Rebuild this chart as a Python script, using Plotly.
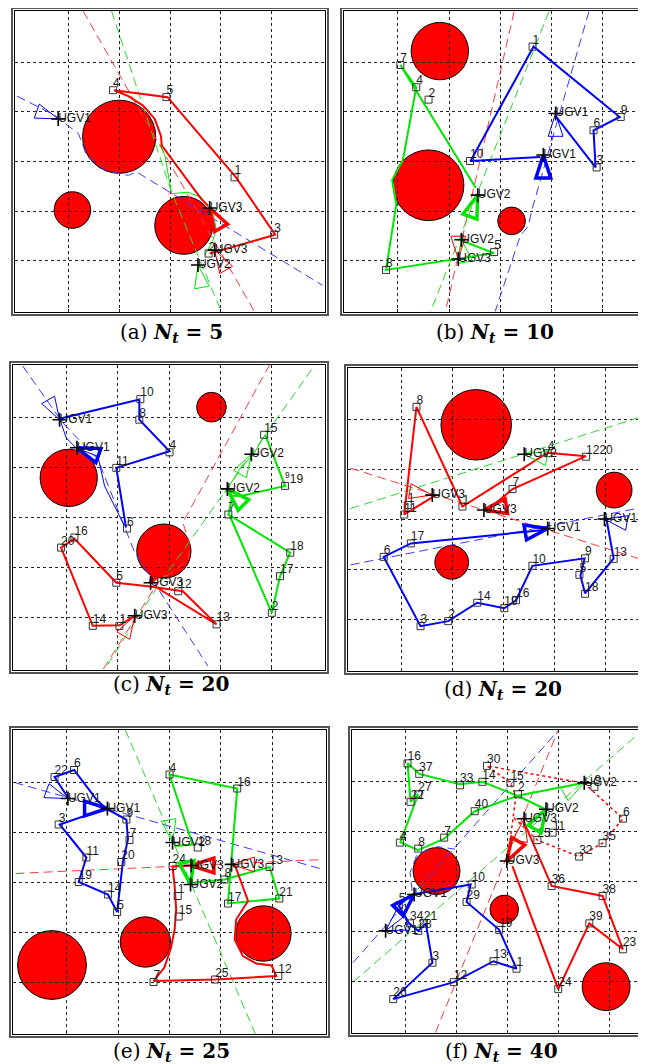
import plotly.graph_objects as go

W, H = 646, 1064
RED, GREEN, BLUE = "#ff0000", "#00e600", "#0000ff"
RED_D, GREEN_D, BLUE_D = "#ff3b3b", "#2ad82a", "#3b3bff"
COL = {"UGV1": BLUE, "UGV2": GREEN, "UGV3": RED}

# ================= (a) N_t = 5 =================
a_obs_x = [2.00, 1.08, 3.27]
a_obs_y = [3.50, 2.02, 1.71]
a_obs_r = [0.72, 0.36, 0.57]
a_red_x = [3.78, 5.07, 4.30, 2.95, 1.90, 2.18, 2.47, 2.70, 2.82, 2.84, 3.61, 3.75]
a_red_y = [1.14, 1.52, 2.68, 4.30, 4.44, 4.32, 4.13, 3.86, 3.52, 3.32, 2.25, 2.10]
a_red_ids = ["1", "2", "3", "4", "5"]
a_red_tx = [4.27, 3.76, 5.05, 1.88, 2.93]
a_red_ty = [2.68, 1.14, 1.52, 4.44, 4.30]
a_green_thin_x = [2.80, 2.90, 3.03, 3.35, 3.61, 3.84, 3.91, 3.84, 3.68]
a_green_thin_y = [3.36, 3.12, 2.35, 2.38, 2.28, 1.98, 1.64, 1.38, 1.11]
a_blue_dash_x = [-0.01, 0.74, 1.20, 1.36, 1.72, 2.18, 2.34, 6.0]
a_blue_dash_y = [4.32, 3.93, 3.56, 3.12, 2.82, 2.72, 2.79, 0.50]
a_red_dash_x = [1.29, 4.66]
a_red_dash_y = [6.04, -0.03]
a_green_dash_x = [1.85, 3.03, 4.01]
a_green_dash_y = [6.04, 2.38, -0.03]
a_ugv_names = ["UGV1", "UGV3", "UGV3", "UGV2"]
a_ugv_x = [0.80, 3.78, 3.88, 3.55]
a_ugv_y = [3.86, 2.06, 1.21, 0.91]
a_ugv_thick = [0, 1, 0, 0]
a_ugv_angle = [110, -30, -30, -10]

# ================= (b) N_t = 10 =================
b_obs_x = [1.82, 1.60, 3.22]
b_obs_y = [5.23, 2.52, 1.80]
b_obs_r = [0.56, 0.69, 0.27]
b_blue_x = [4.07, 4.86, 4.82, 5.33, 3.65, 2.42, 3.78]
b_blue_y = [3.93, 2.88, 3.63, 3.90, 5.32, 3.01, 3.09]
b_blue_ids = ["1", "9", "6", "3", "10"]
b_blue_tx = [3.63, 5.35, 4.82, 4.88, 2.41]
b_blue_ty = [5.32, 3.90, 3.63, 2.88, 3.01]
b_green_x = [2.25, 2.88, 0.77, 0.97, 0.89, 1.10, 1.36, 1.05, 2.52]
b_green_y = [1.40, 1.15, 0.81, 2.13, 2.63, 3.03, 4.50, 4.95, 2.47]
b_green_ids = ["7", "4", "2", "5", "8"]
b_green_tx = [1.05, 1.36, 1.60, 2.88, 0.77]
b_green_ty = [4.95, 4.50, 4.25, 1.17, 0.81]
b_blue_dash_x = [4.73, 3.61, 3.55, 3.39, 2.90]
b_blue_dash_y = [6.03, 2.00, 1.70, 1.50, -0.03]
b_red_dash_x = [3.27, 1.93]
b_red_dash_y = [6.03, -0.03]
b_green_dash_x = [3.95, 1.64]
b_green_dash_y = [6.03, -0.03]
b_ugv_names = ["UGV1", "UGV1", "UGV2", "UGV2", "UGV3"]
b_ugv_x = [4.08, 3.84, 2.56, 2.24, 2.18]
b_ugv_y = [3.97, 3.13, 2.32, 1.42, 1.03]
b_ugv_thick = [0, 1, 1, 0, 0]
b_ugv_angle = [0, 0, 20, -10, 180]

# ================= (c) N_t = 20 =================
c_obs_x = [3.83, 1.04, 2.90]
c_obs_y = [5.20, 3.79, 2.33]
c_obs_r = [0.29, 0.56, 0.53]
c_blue_x = [0.86, 2.42, 2.42, 3.01, 1.97, 2.16]
c_blue_y = [4.97, 5.35, 4.95, 4.32, 3.99, 2.80]
c_blue_thin_x = [0.86, 0.99, 1.18, 1.61, 1.74, 2.13]
c_blue_thin_y = [4.97, 4.59, 4.39, 4.22, 3.63, 2.83]
c_blue_ids = ["10", "8", "4", "11", "6"]
c_blue_tx = [2.44, 2.42, 3.01, 1.97, 2.18]
c_blue_ty = [5.36, 4.95, 4.30, 3.99, 2.78]
c_red_x = [2.33, 2.03, 1.51, 0.89, 1.15, 1.97, 2.59, 3.27, 3.93, 2.72]
c_red_y = [1.04, 0.85, 0.84, 2.40, 2.58, 1.70, 1.63, 1.53, 0.87, 1.63]
c_red_ids = ["16", "20", "5", "12", "13", "14", "1"]
c_red_tx = [1.15, 0.89, 1.97, 3.18, 3.93, 1.51, 2.03]
c_red_ty = [2.60, 2.40, 1.70, 1.53, 0.87, 0.84, 0.84]
c_green_x = [4.88, 5.27, 4.45, 4.24, 4.16, 5.37, 5.17, 5.01, 4.19]
c_green_y = [4.65, 3.63, 3.44, 3.43, 3.06, 2.30, 1.83, 1.10, 3.03]
c_green_thin_x = [4.09, 4.42, 4.65, 4.88]
c_green_thin_y = [3.49, 4.02, 4.26, 4.65]
c_green_ids = ["15", "<sup>9</sup>19", "7", "18", "17", "2"]
c_green_tx = [4.86, 5.27, 4.16, 5.37, 5.17, 5.01]
c_green_ty = [4.65, 3.63, 3.06, 2.30, 1.83, 1.10]
c_blue_dash_x = [0.14, 0.92, 1.61, 2.00, 2.33, 3.76]
c_blue_dash_y = [6.02, 4.89, 4.16, 3.16, 2.30, 0.04]
c_red_dash_x = [4.97, 3.27, 3.42, 3.37, 2.78, 1.71]
c_red_dash_y = [6.05, 2.90, 2.43, 2.16, 1.70, -0.03]
c_green_dash_x = [5.79, 2.78, 1.74]
c_green_dash_y = [5.95, 1.63, -0.03]
c_ugv_names = ["UGV1", "UGV1", "UGV2", "UGV2", "UGV3", "UGV3"]
c_ugv_x = [0.86, 1.20, 4.61, 4.14, 2.64, 2.33]
c_ugv_y = [4.95, 4.39, 4.26, 3.57, 1.70, 1.04]
c_ugv_thick = [0, 1, 0, 1, 1, 0]
c_ugv_angle = [150, -70, 30, -45, 210, 30]

# ================= (d) N_t = 20 =================
d_obs_x = [2.46, 5.16, 1.98]
d_obs_y = [4.90, 3.59, 2.14]
d_obs_r = [0.69, 0.35, 0.33]
d_red_x = [1.67, 1.05, 1.29, 2.19, 3.86, 4.61, 3.17, 2.68]
d_red_y = [3.49, 3.10, 5.26, 3.26, 4.34, 4.27, 3.61, 3.19]
d_red_ids = ["8", "1", "11", "1", "7", "4", "1220"]
d_red_tx = [1.29, 1.12, 1.05, 2.19, 3.17, 3.86, 4.61]
d_red_ty = [5.26, 3.29, 3.10, 3.26, 3.61, 4.33, 4.26]
d_blue_x = [3.79, 1.18, 0.65, 1.37, 1.91, 2.48, 3.01, 3.24, 3.56, 4.58, 4.50, 4.59, 5.15, 5.00]
d_blue_y = [2.79, 2.52, 2.25, 0.86, 0.96, 1.33, 1.22, 1.38, 2.07, 2.22, 1.87, 1.52, 2.22, 3.06]
d_blue_ids = ["17", "6", "3", "2", "14", "19", "16", "10", "9", "5", "18", "13"]
d_blue_tx = [1.18, 0.65, 1.37, 1.91, 2.48, 3.01, 3.24, 3.56, 4.59, 4.48, 4.59, 5.15]
d_blue_ty = [2.52, 2.25, 0.86, 0.96, 1.33, 1.22, 1.38, 2.07, 2.22, 1.89, 1.51, 2.21]
d_red_dash_x = [0.0, 6.0]
d_red_dash_y = [4.03, 2.10]
d_green_dash_x = [0.0, 6.0]
d_green_dash_y = [3.22, 5.16]
d_blue_dash_x = [0.0, 6.0]
d_blue_dash_y = [2.09, 3.30]
d_ugv_names = ["UGV2", "UGV3", "UGV3", "UGV1", "UGV1"]
d_ugv_x = [3.40, 1.60, 2.61, 3.86, 4.97]
d_ugv_y = [4.31, 3.49, 3.19, 2.82, 3.01]
d_ugv_thick = [0, 0, 1, 1, 0]
d_ugv_angle = [-80, 100, -100, 80, -80]

# ================= (e) N_t = 25 =================
e_obs_x = [0.71, 2.53, 4.83]
e_obs_y = [1.34, 1.80, 1.97]
e_obs_r = [0.67, 0.49, 0.54]
e_blue_x = [1.02, 0.76, 1.14, 1.60, 1.77, 0.86, 1.38, 1.23, 1.80, 1.98, 2.09, 2.19, 2.16, 1.80]
e_blue_y = [4.69, 5.10, 5.24, 4.62, 4.47, 4.15, 3.49, 3.00, 2.75, 2.40, 3.39, 3.85, 4.25, 4.45]
e_blue_ids = ["22", "6", "3", "11", "19", "14", "5", "20", "7", "9"]
e_blue_tx = [0.76, 1.14, 0.84, 1.38, 1.23, 1.80, 1.98, 2.06, 2.22, 2.16]
e_blue_ty = [5.10, 5.24, 4.15, 3.49, 3.00, 2.75, 2.40, 3.40, 3.84, 4.25]
e_green_x = [3.10, 3.45, 3.00, 4.32, 4.14, 5.14, 4.95, 4.07, 3.49]
e_green_y = [3.72, 3.75, 5.15, 4.87, 2.57, 2.67, 3.30, 3.05, 2.99]
e_green_ids = ["4", "16", "18", "13", "8", "17", "21"]
e_green_tx = [3.00, 4.32, 3.55, 4.95, 4.07, 4.14, 5.14]
e_green_ty = [5.15, 4.87, 3.69, 3.30, 3.05, 2.57, 2.67]
e_red_x = [4.27, 4.53, 4.30, 4.27, 4.43, 4.69, 4.99, 5.08, 3.89, 2.69, 2.90, 3.03, 3.10, 3.13, 3.10, 3.06, 3.45]
e_red_y = [3.35, 2.62, 2.25, 1.85, 1.52, 1.37, 1.33, 1.12, 1.05, 1.02, 1.29, 1.69, 2.05, 2.45, 2.92, 3.31, 3.33]
e_red_ids = ["24", "1", "15", "7", "25", "12"]
e_red_tx = [3.06, 3.16, 3.18, 2.69, 3.89, 5.12]
e_red_ty = [3.32, 2.72, 2.31, 1.00, 1.05, 1.12]
e_blue_dash_x = [-0.02, 6.0]
e_blue_dash_y = [4.99, 3.25]
e_red_dash_x = [0.0, 6.0]
e_red_dash_y = [3.17, 3.45]
e_green_dash_x = [2.14, 4.69]
e_green_dash_y = [6.04, -0.08]
e_ugv_names = ["UGV1", "UGV1", "UGV2", "UGV3", "UGV3", "UGV2"]
e_ugv_x = [1.02, 1.79, 3.06, 3.42, 4.21, 3.41]
e_ugv_y = [4.67, 4.47, 3.79, 3.33, 3.35, 2.95]
e_ugv_thick = [0, 1, 0, 1, 0, 1]
e_ugv_angle = [110, 90, 170, -90, -90, 170]

# ================= (f) N_t = 40 =================
f_obs_x = [1.61, 2.94, 4.94]
f_obs_y = [3.21, 2.44, 0.89]
f_obs_r = [0.46, 0.28, 0.47]
f_green_x = [4.51, 3.20, 2.36, 1.76, 1.25, 0.90, 1.25, 1.10, 1.04, 1.27, 2.07, 2.51, 3.20, 3.79]
f_green_y = [4.98, 4.72, 4.41, 3.86, 3.63, 3.79, 4.75, 4.60, 5.38, 5.16, 4.95, 5.00, 4.72, 4.43]
f_green_ids = ["16", "37", "27", "22", "4", "8", "7", "40", "33", "14", "2", "9"]
f_green_tx = [1.04, 1.27, 1.25, 1.10, 0.89, 1.25, 1.76, 2.36, 2.07, 2.51, 3.21, 4.71]
f_green_ty = [5.37, 5.16, 4.75, 4.60, 3.78, 3.66, 3.88, 4.41, 4.93, 5.00, 4.75, 4.90]
f_red_x = [3.33, 3.87, 4.87, 5.27, 4.61, 4.00, 3.10]
f_red_y = [4.18, 2.91, 2.71, 1.64, 2.16, 0.84, 3.31]
f_red_ids = ["36", "38", "39", "23", "24"]
f_red_tx = [3.87, 4.87, 4.61, 5.27, 4.00]
f_red_ty = [2.91, 2.71, 2.16, 1.64, 0.84]
f_red_dot_x = [3.04, 3.17, 3.06, 2.60, 4.51, 5.27, 4.87, 4.41, 3.59, 3.10]
f_red_dot_y = [3.71, 4.72, 4.98, 5.32, 4.97, 4.26, 3.77, 3.50, 3.83, 4.31]
f_red_dot_ids = ["30", "15", "6", "35", "32", "25", "11"]
f_red_dot_tx = [2.60, 3.06, 5.27, 4.87, 4.41, 3.59, 3.89]
f_red_dot_ty = [5.32, 4.98, 4.26, 3.77, 3.50, 3.83, 3.98]
f_blue_x = [1.13, 2.28, 2.20, 2.84, 3.18, 2.73, 1.95, 0.76, 1.53, 1.40, 1.25, 1.07, 0.87, 1.13]
f_blue_y = [2.74, 2.94, 2.59, 2.03, 1.25, 1.40, 0.98, 0.64, 1.37, 2.16, 2.01, 2.16, 2.52, 2.74]
f_blue_thin_x = [0.87, 0.61]
f_blue_thin_y = [2.52, 2.01]
f_blue_ids = ["10", "29", "19", "13", "1", "12", "26", "3", "21", "28", "34", "5"]
f_blue_tx = [2.30, 2.20, 2.84, 2.73, 3.18, 1.95, 0.76, 1.53, 1.36, 1.25, 1.09, 0.87]
f_blue_ty = [2.94, 2.59, 2.03, 1.40, 1.25, 0.98, 0.64, 1.37, 2.16, 2.01, 2.16, 2.52]
f_blue_arc_x = [1.13, 1.09, 1.23, 1.63, 1.97]
f_blue_arc_y = [2.81, 3.18, 3.55, 3.70, 3.65]
f_blue_dash_x = [-0.03, 3.99]
f_blue_dash_y = [1.37, 6.02]
f_red_dash_x = [1.59, 3.99]
f_red_dash_y = [-0.03, 6.02]
f_green_dash_x = [-0.03, 5.56]
f_green_dash_y = [0.98, 5.95]
f_ugv_names = ["UGV2", "UGV2", "UGV3", "UGV3", "UGV1", "UGV1"]
f_ugv_x = [4.51, 3.76, 3.33, 2.99, 1.17, 0.61]
f_ugv_y = [4.98, 4.45, 4.26, 3.41, 2.74, 2.01]
f_ugv_thick = [0, 1, 0, 1, 1, 0]
f_ugv_angle = [60, 30, 10, 210, 45, -110]

captions = ["(a)", "(b)", "(c)", "(d)", "(e)", "(f)"]
nt_values = [5, 10, 20, 20, 25, 40]

# ---------------- layout geometry (pixels) ----------------
panel_px = [  # x0, x1, y0(top), y1(bottom)
    (7, 317, 3, 304), (336, 646, 3, 304),
    (5, 317, 357, 662), (340, 646, 360, 663),
    (5, 318, 722, 1026), (344, 646, 722, 1025),
]
panel_xr = [(-0.05, 6.05), (-0.05, 6.0), (-0.05, 6.05), (-0.05, 5.94), (-0.05, 6.05), (-0.05, 5.88)]
panel_yr = [(-0.04, 6.04)] * 6
caption_px = [(163, 325), (487, 325), (163, 677), (495, 682), (163, 1044), (493, 1044)]

fig = go.Figure()
shapes = []
annotations = []


def sfx(i):
    return "" if i == 0 else str(i + 1)


def line(i, xs, ys, color, width, dash="solid"):
    fig.add_trace(go.Scatter(x=xs, y=ys, mode="lines",
                             line=dict(color=color, width=width, dash=dash),
                             xaxis="x" + sfx(i), yaxis="y" + sfx(i),
                             hoverinfo="skip", showlegend=False))


def targets(i, ids, xs, ys):
    fig.add_trace(go.Scatter(x=xs, y=ys, mode="markers",
                             marker=dict(symbol="square-open", size=7, color="#333333",
                                         line=dict(width=1, color="#333333")),
                             xaxis="x" + sfx(i), yaxis="y" + sfx(i),
                             hoverinfo="skip", showlegend=False))
    fig.add_trace(go.Scatter(x=xs, y=ys, mode="text", text=ids,
                             textposition="top right",
                             textfont=dict(family="Liberation Sans", size=12, color="#1a1a1a"),
                             xaxis="x" + sfx(i), yaxis="y" + sfx(i),
                             hoverinfo="skip", showlegend=False, cliponaxis=False))


def ugvs(i, names, xs, ys, thick, angles):
    for t in (0, 1):
        sel = [k for k in range(len(names)) if thick[k] == t]
        if not sel:
            continue
        cols = [COL[names[k]] for k in sel]
        fig.add_trace(go.Scatter(
            x=[xs[k] for k in sel], y=[ys[k] for k in sel], mode="markers",
            marker=dict(symbol="arrow-open", size=24,
                        angle=[angles[k] for k in sel], color=cols,
                        line=dict(width=3.5 if t else 1, color=cols)),
            xaxis="x" + sfx(i), yaxis="y" + sfx(i), hoverinfo="skip", showlegend=False))
    fig.add_trace(go.Scatter(
        x=xs, y=ys, mode="markers",
        marker=dict(symbol="cross-thin-open", size=10, color="black",
                    line=dict(width=1.6, color="black")),
        xaxis="x" + sfx(i), yaxis="y" + sfx(i), hoverinfo="skip", showlegend=False))
    fig.add_trace(go.Scatter(
        x=xs, y=ys, mode="text", text=names, textposition="middle right",
        textfont=dict(family="Liberation Sans", size=12, color="#111111"),
        xaxis="x" + sfx(i), yaxis="y" + sfx(i), hoverinfo="skip", showlegend=False,
        cliponaxis=False))


def obstacles(i, cx, cy, r):
    x0, x1, y0, y1 = panel_px[i]
    ppx = (x1 - x0) / (panel_xr[i][1] - panel_xr[i][0])
    ppy = (y1 - y0) / (panel_yr[i][1] - panel_yr[i][0])
    for k in range(len(cx)):
        ry = r[k] * ppx / ppy
        shapes.append(dict(type="circle", xref="x" + sfx(i), yref="y" + sfx(i),
                           x0=cx[k] - r[k], x1=cx[k] + r[k], y0=cy[k] - ry, y1=cy[k] + ry,
                           fillcolor="#ff0000", line=dict(color="black", width=1), layer="below"))


DASH = "9px,5px"

# (a)
obstacles(0, a_obs_x, a_obs_y, a_obs_r)
line(0, a_blue_dash_x, a_blue_dash_y, BLUE_D, 1, DASH)
line(0, a_red_dash_x, a_red_dash_y, RED_D, 1, DASH)
line(0, a_green_dash_x, a_green_dash_y, GREEN_D, 1, DASH)
line(0, a_green_thin_x, a_green_thin_y, GREEN, 1)
line(0, a_red_x, a_red_y, RED, 2)
targets(0, a_red_ids, a_red_tx, a_red_ty)
ugvs(0, a_ugv_names, a_ugv_x, a_ugv_y, a_ugv_thick, a_ugv_angle)

# (b)
obstacles(1, b_obs_x, b_obs_y, b_obs_r)
line(1, b_blue_dash_x, b_blue_dash_y, BLUE_D, 1, DASH)
line(1, b_red_dash_x, b_red_dash_y, RED_D, 1, DASH)
line(1, b_green_dash_x, b_green_dash_y, GREEN_D, 1, DASH)
line(1, b_blue_x, b_blue_y, BLUE, 2)
line(1, b_green_x, b_green_y, GREEN, 2)
targets(1, b_blue_ids, b_blue_tx, b_blue_ty)
targets(1, b_green_ids, b_green_tx, b_green_ty)
ugvs(1, b_ugv_names, b_ugv_x, b_ugv_y, b_ugv_thick, b_ugv_angle)

# (c)
obstacles(2, c_obs_x, c_obs_y, c_obs_r)
line(2, c_blue_dash_x, c_blue_dash_y, BLUE_D, 1, DASH)
line(2, c_red_dash_x, c_red_dash_y, RED_D, 1, DASH)
line(2, c_green_dash_x, c_green_dash_y, GREEN_D, 1, DASH)
line(2, c_blue_thin_x, c_blue_thin_y, BLUE, 1)
line(2, c_green_thin_x, c_green_thin_y, GREEN, 1)
line(2, c_blue_x, c_blue_y, BLUE, 2)
line(2, c_red_x, c_red_y, RED, 2)
line(2, c_green_x, c_green_y, GREEN, 2)
targets(2, c_blue_ids, c_blue_tx, c_blue_ty)
targets(2, c_red_ids, c_red_tx, c_red_ty)
targets(2, c_green_ids, c_green_tx, c_green_ty)
ugvs(2, c_ugv_names, c_ugv_x, c_ugv_y, c_ugv_thick, c_ugv_angle)

# (d)
obstacles(3, d_obs_x, d_obs_y, d_obs_r)
line(3, d_red_dash_x, d_red_dash_y, RED_D, 1, DASH)
line(3, d_green_dash_x, d_green_dash_y, GREEN_D, 1, DASH)
line(3, d_blue_dash_x, d_blue_dash_y, BLUE_D, 1, DASH)
line(3, d_red_x, d_red_y, RED, 2)
line(3, d_blue_x, d_blue_y, BLUE, 2)
targets(3, d_red_ids, d_red_tx, d_red_ty)
targets(3, d_blue_ids, d_blue_tx, d_blue_ty)
ugvs(3, d_ugv_names, d_ugv_x, d_ugv_y, d_ugv_thick, d_ugv_angle)

# (e)
obstacles(4, e_obs_x, e_obs_y, e_obs_r)
line(4, e_blue_dash_x, e_blue_dash_y, BLUE_D, 1, DASH)
line(4, e_red_dash_x, e_red_dash_y, RED_D, 1, DASH)
line(4, e_green_dash_x, e_green_dash_y, GREEN_D, 1, DASH)
line(4, e_blue_x, e_blue_y, BLUE, 2)
line(4, e_green_x, e_green_y, GREEN, 2)
line(4, e_red_x, e_red_y, RED, 2)
targets(4, e_blue_ids, e_blue_tx, e_blue_ty)
targets(4, e_green_ids, e_green_tx, e_green_ty)
targets(4, e_red_ids, e_red_tx, e_red_ty)
ugvs(4, e_ugv_names, e_ugv_x, e_ugv_y, e_ugv_thick, e_ugv_angle)

# (f)
obstacles(5, f_obs_x, f_obs_y, f_obs_r)
line(5, f_blue_dash_x, f_blue_dash_y, BLUE_D, 1, DASH)
line(5, f_red_dash_x, f_red_dash_y, RED_D, 1, DASH)
line(5, f_green_dash_x, f_green_dash_y, GREEN_D, 1, DASH)
line(5, f_blue_arc_x, f_blue_arc_y, BLUE_D, 1, DASH)
line(5, f_red_dot_x, f_red_dot_y, RED, 1.5, "dot")
line(5, f_blue_thin_x, f_blue_thin_y, BLUE, 1)
line(5, f_green_x, f_green_y, GREEN, 2)
line(5, f_red_x, f_red_y, RED, 2)
line(5, f_blue_x, f_blue_y, BLUE, 2)
targets(5, f_green_ids, f_green_tx, f_green_ty)
targets(5, f_red_ids, f_red_tx, f_red_ty)
targets(5, f_red_dot_ids, f_red_dot_tx, f_red_dot_ty)
targets(5, f_blue_ids, f_blue_tx, f_blue_ty)
ugvs(5, f_ugv_names, f_ugv_x, f_ugv_y, f_ugv_thick, f_ugv_angle)

layout = dict(width=W, height=H, margin=dict(l=0, r=0, t=0, b=0),
              paper_bgcolor="white", plot_bgcolor="white", showlegend=False)
for i in range(6):
    x0, x1, y0, y1 = panel_px[i]
    ax = dict(showgrid=True, gridcolor="#222222", gridwidth=1, griddash="3px,3px",
              tickvals=[1, 2, 3, 4, 5], showticklabels=False, ticks="inside", ticklen=3,
              tickcolor="#222222", zeroline=False, showline=True, mirror=True,
              linecolor="black", linewidth=1, fixedrange=True)
    layout["xaxis" + sfx(i)] = dict(ax, domain=[x0 / W, x1 / W], range=list(panel_xr[i]),
                                    anchor="y" + sfx(i))
    layout["yaxis" + sfx(i)] = dict(ax, domain=[1 - y1 / H, 1 - y0 / H], range=list(panel_yr[i]),
                                    anchor="x" + sfx(i))
    shapes.append(dict(type="rect", xref="paper", yref="paper",
                       x0=(x0 - 3) / W, x1=(x1 + 3) / W, y0=1 - (y1 + 3) / H, y1=1 - (y0 - 3) / H,
                       line=dict(color="#555555", width=2), fillcolor="rgba(0,0,0,0)"))
    cx, cy = caption_px[i]
    annotations.append(dict(
        xref="paper", yref="paper", x=cx / W, y=1 - cy / H, xanchor="center", yanchor="middle",
        showarrow=False,
        text=(f"{captions[i]} <b><i>N</i></b><sub><b><i>t</i></b></sub>"
              f"<b>&nbsp;=&nbsp;{nt_values[i]}</b>"),
        font=dict(family="DejaVu Serif", size=20, color="black")))

layout["shapes"] = shapes
layout["annotations"] = annotations
fig.update_layout(**layout)
fig.write_html("out.html")
